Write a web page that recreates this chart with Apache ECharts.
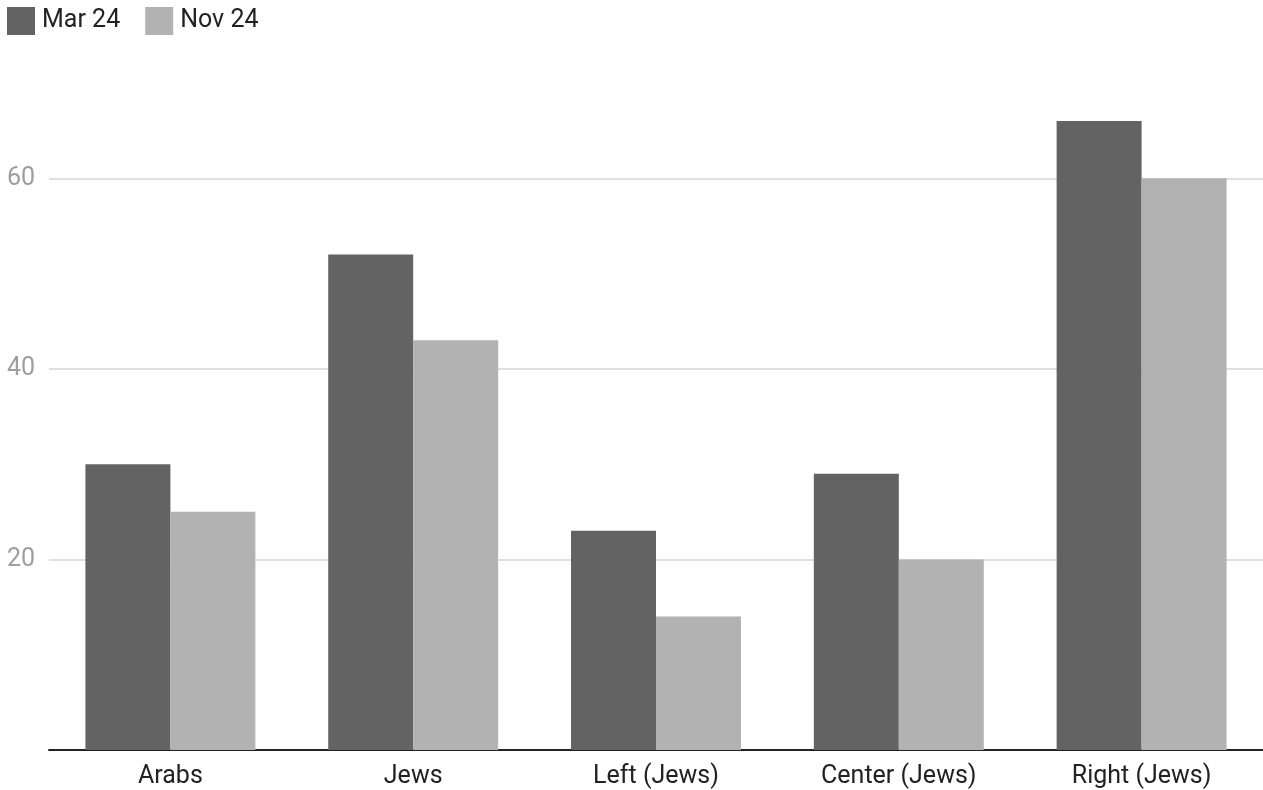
<!DOCTYPE html>
<html>
<head>
<meta charset="utf-8">
<script src="https://cdn.jsdelivr.net/npm/echarts@6/dist/echarts.min.js"></script>
<style>
  html, body { margin: 0; padding: 0; background: #fff; }
  #chart { width: 1263px; height: 790px; }
</style>
</head>
<body>
<div id="chart"></div>
<script>
// Groups along the x axis
const categories = ['Arabs', 'Jews', 'Left (Jews)', 'Center (Jews)', 'Right (Jews)'];
// Survey values per period
const mar24 = [30, 52, 23, 29, 66];
const nov24 = [25, 43, 14, 20, 60];
const seriesNames = ['Mar 24', 'Nov 24'];

const chart = echarts.init(document.getElementById('chart'), null, { renderer: 'canvas' });
const font = 'Roboto, "Noto Sans", sans-serif';

chart.setOption({
  animation: false,
  backgroundColor: '#ffffff',
  legend: {
    left: 2,
    top: 2,
    itemWidth: 28,
    itemHeight: 28,
    itemGap: 25,
    icon: 'rect',
    textStyle: { fontFamily: font, fontSize: 25, color: '#222222', padding: [2, 0, 0, 2] },
    data: seriesNames
  },
  grid: { left: 49, right: -3, top: 83, bottom: 40, containLabel: false },
  xAxis: {
    type: 'category',
    data: categories,
    axisLine: { lineStyle: { color: '#222222', width: 2 } },
    axisTick: { show: false },
    axisLabel: { fontFamily: font, fontSize: 25, color: '#222222', margin: 14 }
  },
  yAxis: {
    type: 'value',
    min: 0,
    max: 70,
    interval: 20,
    axisLine: { show: false },
    axisTick: { show: false },
    axisLabel: {
      fontFamily: font, fontSize: 25, color: '#9e9e9e', margin: 14,
      showMinLabel: false, showMaxLabel: false
    },
    splitLine: { show: true, showMinLine: false, showMaxLine: false, lineStyle: { color: '#e0e0e0', width: 2 } }
  },
  series: [
    {
      name: seriesNames[0], type: 'bar', data: mar24,
      itemStyle: { color: '#636363' },
      barGap: '0%', barCategoryGap: '30%'
    },
    {
      name: seriesNames[1], type: 'bar', data: nov24,
      itemStyle: { color: '#b2b2b2' },
      barGap: '0%', barCategoryGap: '30%'
    }
  ]
});
</script>
</body>
</html>
